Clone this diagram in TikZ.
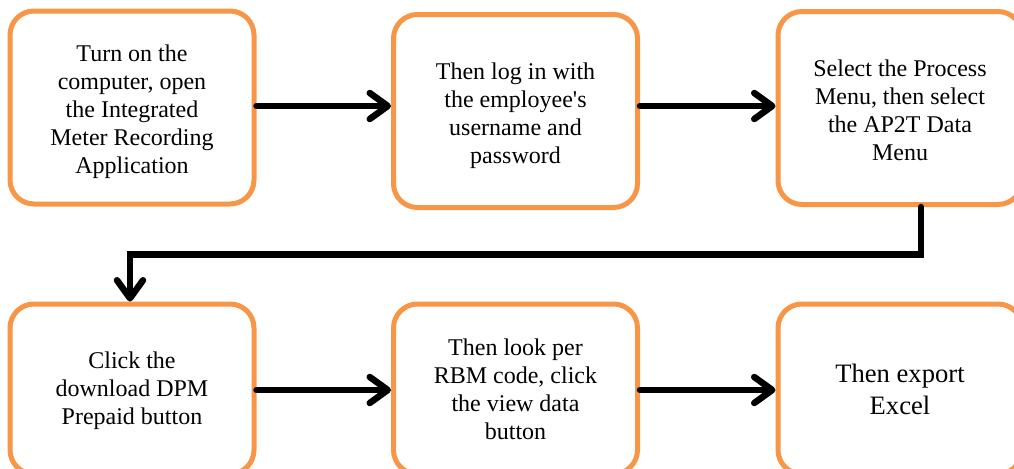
\documentclass[tikz,border=0pt]{standalone}
\usepackage{fontspec}
\setmainfont{Liberation Serif}
\usetikzlibrary{arrows.meta}
\definecolor{steporange}{RGB}{247,150,70}
\tikzset{
  stepbox/.style={draw=steporange, line width=2.5pt, rounded corners=12pt,
    fill=white, minimum width=122pt},
  toprow/.style={minimum height=96.5pt},
  lowrow/.style={minimum height=85pt},
  steptext/.style={align=center, inner sep=0pt,
    font=\fontsize{12}{14}\selectfont},
  conn/.style={line width=3.25pt, line cap=round, line join=miter,
    -{Straight Barb[length=9pt, width=13pt, line cap=round, line join=round]}},
}
\begin{document}
\begin{tikzpicture}[x=0.5pt, y=-0.5pt]
  \useasboundingbox (0,0) rectangle (1014,468);
  \clip (0,0) rectangle (1014,468);

  % first row of steps
  \node[stepbox, toprow] (B1) at (132,107.5) {};
  \node[stepbox, toprow] (B2) at (515.5,111) {};
  \node[stepbox, toprow] (B3) at (900,108) {};
  \node[steptext] (T1) at ([yshift=-2pt]B1.center)
    {Turn on the\\computer, open\\the Integrated\\Meter Recording\\Application};
  \node[steptext] (T2) at ([yshift=-2.5pt]B2.center)
    {Then log in with\\the employee\textquotesingle s\\username and\\password};
  \node[steptext] (T3) at ([yshift=-1pt]B3.center)
    {Select the Process\\Menu, then select\\the AP2T Data\\Menu};

  % second row of steps
  \node[stepbox, lowrow] (B4) at (132,389) {};
  \node[stepbox, lowrow] (B5) at (515.5,389) {};
  \node[stepbox, lowrow] (B6) at (900,389) {};
  \node[steptext] (T4) at ([yshift=-1pt]B4.center)
    {Click the\\download DPM\\Prepaid button};
  \node[steptext] (T5) at (B5.center)
    {Then look per\\RBM code, click\\the view data\\button};
  \node[steptext, font=\fontsize{13.3}{16}\selectfont] (T6) at (B6.center)
    {Then export\\Excel};

  % connectors
  \coordinate (row1) at (0,106);
  \coordinate (row2) at (0,390);
  \coordinate (turn) at (921,254.5);
  \coordinate (drop) at (130,254.5);

  \draw[conn] (B1.east |- row1) -- (B2.west |- row1);
  \draw[conn] (B2.east |- row1) -- (B3.west |- row1);
  \draw[conn] (B3.south -| turn) -- (turn) -- (drop) -- (B4.north -| drop);
  \draw[conn] (B4.east |- row2) -- (B5.west |- row2);
  \draw[conn] (B5.east |- row2) -- (B6.west |- row2);
\end{tikzpicture}
\end{document}
